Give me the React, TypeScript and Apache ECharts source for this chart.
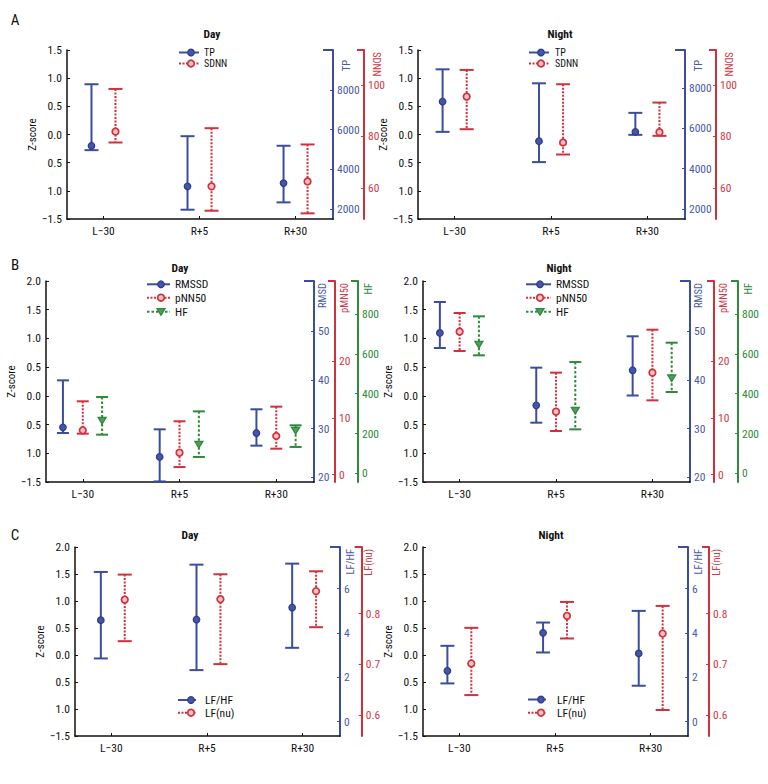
import React, { useEffect, useRef } from "react";
import * as echarts from "echarts";

const FONT = "'Liberation Sans Narrow', 'Roboto Condensed', Roboto, 'Liberation Sans', sans-serif";

const categories = ["L−30", "R+5", "R+30"];
const categoryPos = [0, 1, 2];

const zTicksA = [-1.5, -1, -0.5, 0, 0.5, 1, 1.5];
const zLabelsA = ["−1.5", "1.0", "0.5", "0.0", "0.5", "1.0", "1.5"];
const zTicksBC = [-1.5, -1, -0.5, 0, 0.5, 1, 1.5, 2];
const zLabelsBC = ["−1.5", "1.0", "0.5", "0.0", "0.5", "1.0", "1.5", "2.0"];

// right-axis scales
const tpTicks = [2000, 4000, 6000, 8000];
const tpRangeDay = [1500, 10000];
const tpRangeNight = [1500, 9900];
const sdnnTicks = [60, 80, 100];
const sdnnRange = [48, 113.5];
const rmssdTicks = [20, 30, 40, 50];
const rmssdRange = [19, 60.4];
const pnn50Ticks = [0, 10, 20];
const pnn50Range = [-1.3, 34.2];
const hfTicks = [0, 200, 400, 600, 800];
const hfRange = [-43, 965];
const lfhfTicks = [0, 2, 4, 6];
const lfhfRange = [-0.645, 7.875];
const lfnuTicks = [0.6, 0.7, 0.8];
const lfnuRange = [0.559, 0.931];

// Z-score error bars per category: [low, mean, high]
const aDayTP = [[-0.278, -0.2, 0.892], [-1.335, -0.92, -0.03], [-1.205, -0.863, -0.2]];
const aDaySDNN = [[-0.142, 0.053, 0.809], [-1.353, -0.92, 0.112], [-1.4, -0.833, -0.177]];
const aNightTP = [[0.047, 0.584, 1.157], [-0.49, -0.118, 0.909], [-0.006, 0.047, 0.384]];
const aNightSDNN = [[0.094, 0.673, 1.146], [-0.355, -0.142, 0.892], [-0.024, 0.041, 0.567]];
const bDayRMSSD = [[-0.647, -0.548, 0.27], [-1.49, -1.064, -0.583], [-0.867, -0.647, -0.234]];
const bDayPNN50 = [[-0.658, -0.6, -0.095], [-1.24, -0.99, -0.443], [-0.92, -0.699, -0.188]];
const bDayHF = [[-0.676, -0.426, -0.02], [-1.064, -0.844, -0.27], [-0.89, -0.6, -0.513]];
const bNightRMSSD = [[0.833, 1.095, 1.634], [-0.467, -0.165, 0.491], [0.006, 0.445, 1.037]];
const bNightPNN50 = [[0.781, 1.118, 1.443], [-0.612, -0.275, 0.404], [-0.078, 0.404, 1.152]];
const bNightHF = [[0.706, 0.897, 1.385], [-0.583, -0.252, 0.589], [0.067, 0.311, 0.926]];
const cDayLFHF = [[-0.064, 0.644, 1.538], [-0.28, 0.657, 1.673], [0.133, 0.879, 1.692]];
const cDayLFnu = [[0.256, 1.026, 1.489], [-0.169, 1.033, 1.495], [0.515, 1.181, 1.55]];
const cNightLFHF = [[-0.526, -0.292, 0.17], [0.047, 0.41, 0.601], [-0.569, 0.028, 0.817]];
const cNightLFnu = [[-0.742, -0.157, 0.503], [0.306, 0.725, 0.983], [-1.019, 0.398, 0.909]];

const BLUE = "#3b4d9e";
const RED = "#d1313d";
const GREEN = "#2f8a3c";
const BLUE_T = "#4a5aa8";
const RED_T = "#cf3a48";
const GREEN_T = "#2f8a3c";
const RED_DASH = [2, 1.5];
const GREEN_DASH = [2.5, 2];

const xMin = -0.38;
const xMax = 2.39;

type Right = { name: string; color: string; tcolor: string; range: number[]; ticks: number[]; offset: number; nameDx: number; nameDy?: number; rot: number; dec?: number };
type Ser = { name: string; data: number[][]; color: string; dash?: number[]; marker: "dot" | "ring" | "tri"; dx: number };
type Panel = {
  letter?: string; letterY?: number;
  left: number; top: number; width: number; height: number;
  zTicks: number[]; zLabels: string[]; zMax: number;
  title: string; titleX: number; titleY: number;
  rights: Right[]; series: Ser[]; cap: number;
  legend: { x1: number; x2: number; mx: number; tx: number; ys: number[]; fs: number };
};

const tpR = (range: number[]): Right => ({ name: "TP", color: BLUE, tcolor: BLUE_T, range, ticks: tpTicks, offset: 0, nameDx: 13, nameDy: 10, rot: 90 });
const sdnnR: Right = { name: "SDNN", color: RED, tcolor: RED_T, range: sdnnRange, ticks: sdnnTicks, offset: 31, nameDx: 12, rot: -90 };

const panels: Panel[] = [
  {
    letter: "A", letterY: 20,
    left: 67, top: 50, width: 266, height: 169, zTicks: zTicksA, zLabels: zLabelsA, zMax: 1.5,
    title: "Day", titleX: 212, titleY: 34, cap: 7,
    rights: [tpR(tpRangeDay), sdnnR],
    series: [
      { name: "TP", data: aDayTP, color: BLUE, marker: "dot", dx: -0.125 },
      { name: "SDNN", data: aDaySDNN, color: RED, dash: RED_DASH, marker: "ring", dx: 0.125 },
    ],
    legend: { x1: 179, x2: 199, mx: 191, tx: 204, ys: [52.5, 63.5], fs: 10 },
  },
  {
    left: 418, top: 50, width: 267, height: 169, zTicks: zTicksA, zLabels: zLabelsA, zMax: 1.5,
    title: "Night", titleX: 560, titleY: 34, cap: 7,
    rights: [tpR(tpRangeNight), sdnnR],
    series: [
      { name: "TP", data: aNightTP, color: BLUE, marker: "dot", dx: -0.125 },
      { name: "SDNN", data: aNightSDNN, color: RED, dash: RED_DASH, marker: "ring", dx: 0.125 },
    ],
    legend: { x1: 529, x2: 549, mx: 541, tx: 555, ys: [52.5, 63.5], fs: 10 },
  },
  {
    letter: "B", letterY: 265,
    left: 46, top: 281, width: 268, height: 201, zTicks: zTicksBC, zLabels: zLabelsBC, zMax: 2,
    title: "Day", titleX: 180, titleY: 268, cap: 6,
    rights: [
      { name: "RMSD", color: BLUE, tcolor: BLUE_T, range: rmssdRange, ticks: rmssdTicks, offset: 0, nameDx: 8, rot: 90 },
      { name: "pMN50", color: RED, tcolor: RED_T, range: pnn50Range, ticks: pnn50Ticks, offset: 21, nameDx: 9, rot: 90 },
      { name: "HF", color: GREEN, tcolor: GREEN_T, range: hfRange, ticks: hfTicks, offset: 44, nameDx: 10, rot: 90 },
    ],
    series: [
      { name: "RMSSD", data: bDayRMSSD, color: BLUE, marker: "dot", dx: -0.205 },
      { name: "pNN50", data: bDayPNN50, color: RED, dash: RED_DASH, marker: "ring", dx: 0 },
      { name: "HF", data: bDayHF, color: GREEN, dash: GREEN_DASH, marker: "tri", dx: 0.2 },
    ],
    legend: { x1: 147, x2: 170, mx: 161, tx: 175, ys: [284.3, 297.7, 311.7], fs: 11.5 },
  },
  {
    left: 423, top: 281, width: 267, height: 201, zTicks: zTicksBC, zLabels: zLabelsBC, zMax: 2,
    title: "Night", titleX: 559, titleY: 268, cap: 6,
    rights: [
      { name: "RMSD", color: BLUE, tcolor: BLUE_T, range: rmssdRange, ticks: rmssdTicks, offset: 0, nameDx: 8, rot: 90 },
      { name: "pMN50", color: RED, tcolor: RED_T, range: pnn50Range, ticks: pnn50Ticks, offset: 24, nameDx: 9, rot: 90 },
      { name: "HF", color: GREEN, tcolor: GREEN_T, range: hfRange, ticks: hfTicks, offset: 48, nameDx: 10, rot: 90 },
    ],
    series: [
      { name: "RMSSD", data: bNightRMSSD, color: BLUE, marker: "dot", dx: -0.205 },
      { name: "pNN50", data: bNightPNN50, color: RED, dash: RED_DASH, marker: "ring", dx: 0 },
      { name: "HF", data: bNightHF, color: GREEN, dash: GREEN_DASH, marker: "tri", dx: 0.2 },
    ],
    legend: { x1: 526, x2: 551, mx: 540, tx: 556, ys: [284.3, 297.7, 311.7], fs: 11.5 },
  },
  {
    letter: "C", letterY: 535,
    left: 75, top: 547, width: 265, height: 189, zTicks: zTicksBC, zLabels: zLabelsBC, zMax: 2,
    title: "Day", titleX: 190, titleY: 535, cap: 7,
    rights: [
      { name: "LF/HF", color: BLUE, tcolor: BLUE_T, range: lfhfRange, ticks: lfhfTicks, offset: 0, nameDx: 10, rot: 90 },
      { name: "LF(nu)", color: RED, tcolor: RED_T, range: lfnuRange, ticks: lfnuTicks, offset: 21.7, nameDx: 7, rot: 90, dec: 1 },
    ],
    series: [
      { name: "LF/HF", data: cDayLFHF, color: BLUE, marker: "dot", dx: -0.11 },
      { name: "LF(nu)", data: cDayLFnu, color: RED, dash: RED_DASH, marker: "ring", dx: 0.14 },
    ],
    legend: { x1: 178, x2: 196, mx: 191, tx: 205, ys: [700, 712.7], fs: 11.5 },
  },
  {
    left: 423, top: 547, width: 265, height: 189, zTicks: zTicksBC, zLabels: zLabelsBC, zMax: 2,
    title: "Night", titleX: 551, titleY: 535, cap: 7,
    rights: [
      { name: "LF/HF", color: BLUE, tcolor: BLUE_T, range: lfhfRange, ticks: lfhfTicks, offset: 0, nameDx: 10, rot: 90 },
      { name: "LF(nu)", color: RED, tcolor: RED_T, range: lfnuRange, ticks: lfnuTicks, offset: 21, nameDx: 7, rot: 90, dec: 1 },
    ],
    series: [
      { name: "LF/HF", data: cNightLFHF, color: BLUE, marker: "dot", dx: -0.125 },
      { name: "LF(nu)", data: cNightLFnu, color: RED, dash: RED_DASH, marker: "ring", dx: 0.125 },
    ],
    legend: { x1: 528, x2: 546, mx: 541, tx: 557, ys: [699.5, 712.7], fs: 11.5 },
  },
];

function markerEl(kind: string, color: string, cx: number, cy: number): any {
  if (kind === "dot") return { type: "circle", shape: { cx, cy, r: 3.3 }, style: { fill: "#4456a8", stroke: "#2c3c8c", lineWidth: 1.2 } };
  if (kind === "ring") return { type: "circle", shape: { cx, cy, r: 3.3 }, style: { fill: "#f4c2c5", stroke: color, lineWidth: 1.7 } };
  return {
    type: "polygon",
    shape: { points: [[cx - 4, cy - 3], [cx + 4, cy - 3], [cx, cy + 3.6]] },
    style: { fill: "#4f9f5a", stroke: color, lineWidth: 1.3 },
  };
}

function buildOption() {
  const grid: any[] = [];
  const xAxis: any[] = [];
  const yAxis: any[] = [];
  const series: any[] = [];
  const graphic: any[] = [];
  const txt = { color: "#111", fontSize: 11.5, fontFamily: FONT };

  panels.forEach((p, i) => {
    grid.push({ left: p.left, top: p.top, width: p.width, height: p.height });
    xAxis.push({
      type: "value", gridIndex: i, min: xMin, max: xMax,
      axisLine: { show: true, onZero: false, lineStyle: { color: "#111", width: 1.5 } },
      axisTick: { show: true, inside: true, length: 3, customValues: categoryPos, lineStyle: { color: "#111" } },
      axisLabel: { customValues: categoryPos, formatter: (v: number) => categories[Math.round(v)] ?? "", margin: 6, ...txt },
      splitLine: { show: false },
    });
    const zIndex = yAxis.length;
    yAxis.push({
      type: "value", gridIndex: i, position: "left", min: -1.5, max: p.zMax, interval: 0.5,
      name: "Z-score", nameLocation: "middle", nameGap: 19, nameTextStyle: { ...txt, fontSize: 11 },
      axisLine: { show: true, onZero: false, lineStyle: { color: "#111", width: 1.5 } },
      axisTick: { show: true, inside: true, length: 3, lineStyle: { color: "#111" } },
      axisLabel: {
        formatter: (v: number) => {
          const k = p.zTicks.findIndex((t) => Math.abs(t - v) < 1e-6);
          return k >= 0 ? p.zLabels[k] : "";
        },
        margin: 5, ...txt,
      },
      splitLine: { show: false },
    });
    const rightEdge = p.left + p.width;
    p.rights.forEach((r, j) => {
      yAxis.push({
        type: "value", gridIndex: i, position: "right", offset: r.offset, min: r.range[0], max: r.range[1],
        axisLine: { show: true, onZero: false, lineStyle: { color: r.color, width: 2 } },
        axisTick: { show: true, inside: true, length: 3, customValues: r.ticks, lineStyle: { color: r.color } },
        axisLabel: {
          customValues: r.ticks, margin: 4, color: r.tcolor, fontSize: 11.5, fontFamily: FONT,
          formatter: (v: number) => (r.dec ? v.toFixed(r.dec) : String(Math.round(v))),
        },
        splitLine: { show: false },
      });
      const ax = rightEdge + r.offset;
      const capLen = j === 0 ? 10 : 7;
      graphic.push({ type: "line", shape: { x1: ax - capLen, y1: p.top, x2: ax, y2: p.top }, style: { stroke: r.color, lineWidth: 2 }, silent: true });
      graphic.push({
        type: "text", x: ax + r.nameDx, y: p.top + (r.nameDy ?? 2), rotation: (r.rot * Math.PI) / 180,
        style: { text: r.name, fill: r.tcolor, fontSize: 10.5, fontFamily: FONT, align: r.rot > 0 ? "right" : "left", verticalAlign: "middle" },
        silent: true,
      });
    });

    p.series.forEach((s) => {
      const hw = p.cap;
      series.push({
        type: "custom", name: s.name, xAxisIndex: i, yAxisIndex: zIndex, silent: true, clip: false,
        data: s.data.map((d, k) => [categoryPos[k] + s.dx, d[0], d[1], d[2]]),
        renderItem: (_params: any, api: any) => {
          const x = api.value(0);
          const top = api.coord([x, api.value(3)]);
          const bot = api.coord([x, api.value(1)]);
          const mid = api.coord([x, api.value(2)]);
          const barStyle: any = { stroke: s.color, lineWidth: 2 };
          if (s.dash) barStyle.lineDash = s.dash;
          return {
            type: "group",
            children: [
              { type: "line", shape: { x1: top[0], y1: top[1], x2: bot[0], y2: bot[1] }, style: barStyle },
              { type: "line", shape: { x1: top[0] - hw, y1: top[1], x2: top[0] + hw, y2: top[1] }, style: { stroke: s.color, lineWidth: 2 } },
              { type: "line", shape: { x1: bot[0] - hw, y1: bot[1], x2: bot[0] + hw, y2: bot[1] }, style: { stroke: s.color, lineWidth: 2 } },
              markerEl(s.marker, s.color, mid[0], mid[1]),
            ],
          };
        },
      });
    });

    // legend
    p.series.forEach((s, k) => {
      const y = p.legend.ys[k];
      const ls: any = { stroke: s.color, lineWidth: 2 };
      if (s.dash) ls.lineDash = s.dash;
      graphic.push({ type: "line", shape: { x1: p.legend.x1, y1: y, x2: p.legend.x2, y2: y }, style: ls, silent: true });
      graphic.push({ ...markerEl(s.marker, s.color, p.legend.mx, y), silent: true });
      graphic.push({
        type: "text", x: p.legend.tx, y,
        style: { text: s.name, fill: "#111", fontSize: p.legend.fs, fontFamily: FONT, align: "left", verticalAlign: "middle" },
        silent: true,
      });
    });

    graphic.push({
      type: "text", x: p.titleX, y: p.titleY,
      style: { text: p.title, fill: "#111", fontSize: 11.5, fontWeight: "bold", fontFamily: FONT, align: "center", verticalAlign: "middle" },
      silent: true,
    });
    if (p.letter) {
      graphic.push({
        type: "text", x: 15, y: p.letterY,
        style: { text: p.letter, fill: "#111", fontSize: 15, fontFamily: FONT, align: "center", verticalAlign: "middle" },
        silent: true,
      });
    }
  });

  return { animation: false, backgroundColor: "#ffffff", grid, xAxis, yAxis, series, graphic };
}

export default function App() {
  const ref = useRef<HTMLDivElement>(null);
  useEffect(() => {
    if (!ref.current) return;
    const chart = echarts.init(ref.current, undefined, { renderer: "svg" });
    chart.setOption(buildOption() as any);
    return () => chart.dispose();
  }, []);
  return <div ref={ref} style={{ position: "absolute", left: 0, top: 0, width: 768, height: 784, background: "#fff" }} />;
}
